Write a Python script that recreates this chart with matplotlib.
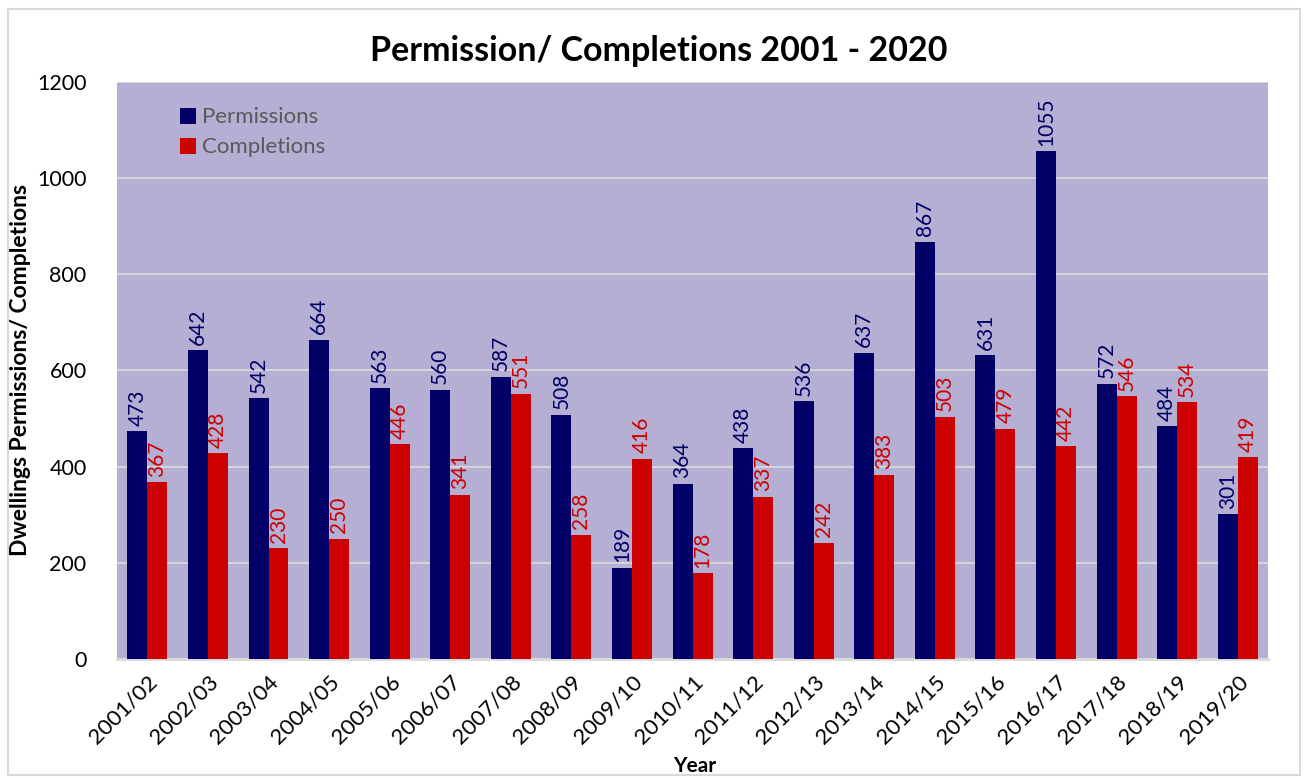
import matplotlib.pyplot as plt
import numpy as np

years = ["2001/02", "2002/03", "2003/04", "2004/05", "2005/06", "2006/07", "2007/08",
         "2008/09", "2009/10", "2010/11", "2011/12", "2012/13", "2013/14", "2014/15",
         "2015/16", "2016/17", "2017/18", "2018/19", "2019/20"]
permissions = [473, 642, 542, 664, 563, 560, 587, 508, 189, 364, 438, 536, 637, 867,
               631, 1055, 572, 484, 301]
completions = [367, 428, 230, 250, 446, 341, 551, 258, 416, 178, 337, 242, 383, 503,
               479, 442, 546, 534, 419]

plt.rcParams['font.family'] = ['Lato', 'DejaVu Sans']

blue = "#000066"
red = "#CC0000"

fig = plt.figure(figsize=(13.05, 7.78), dpi=100)
ax = fig.add_axes([0.0897, 0.153, 0.882, 0.742])
ax.set_facecolor("#B4AFD3")

x = np.arange(len(years))
w = 0.33
b1 = ax.bar(x - w / 2, permissions, w, color=blue, label="Permissions", zorder=3)
b2 = ax.bar(x + w / 2, completions, w, color=red, label="Completions", zorder=3)

for bars, vals, c in [(b1, permissions, blue), (b2, completions, red)]:
    for b, v in zip(bars, vals):
        ax.annotate(str(v), (b.get_x() + b.get_width() / 2, v), xytext=(0, 4),
                    textcoords="offset points", rotation=90, ha="center", va="bottom",
                    fontsize=15, color=c, zorder=4)

ax.set_xlim(-0.5, len(years) - 0.5)
ax.set_ylim(0, 1200)
ax.set_yticks(range(0, 1201, 200))
ax.yaxis.grid(True, color="#D9D9D9", lw=1.3, zorder=0)
ax.set_xticks(x)
ax.set_xticklabels(years, rotation=45, ha="right", rotation_mode="anchor", fontsize=16)
ax.tick_params(axis="y", labelsize=15.5, length=0, pad=22)
ax.tick_params(axis="x", length=0, pad=9)
for s in ["top", "right", "left"]:
    ax.spines[s].set_visible(False)
ax.spines["bottom"].set_color("#D9D9D9")
ax.spines["bottom"].set_linewidth(2)

fig.text(0.532, 0.016, "Year", ha="center", va="center", fontsize=15, fontweight="bold")
ax.set_ylabel("Dwellings Permissions/ Completions", fontsize=16.5, fontweight="bold")
ax.yaxis.set_label_coords(-0.075, 0.5)
fig.text(0.505, 0.935, "Permission/ Completions 2001 - 2020", ha="center", va="center",
         fontsize=24.5, fontweight="bold")

leg = ax.legend(loc="upper left", bbox_to_anchor=(0.037, 0.99), frameon=False, fontsize=16,
                handlelength=0.75, handleheight=0.75, handletextpad=0.25, labelspacing=0.45)
for t in leg.get_texts():
    t.set_color("#595959")

fig.patches.append(plt.Rectangle((0.006, 0.004), 0.99, 0.985, transform=fig.transFigure,
                                 fill=False, edgecolor="#D9D9D9", lw=1.5))

fig.savefig("out.png", dpi=100)
